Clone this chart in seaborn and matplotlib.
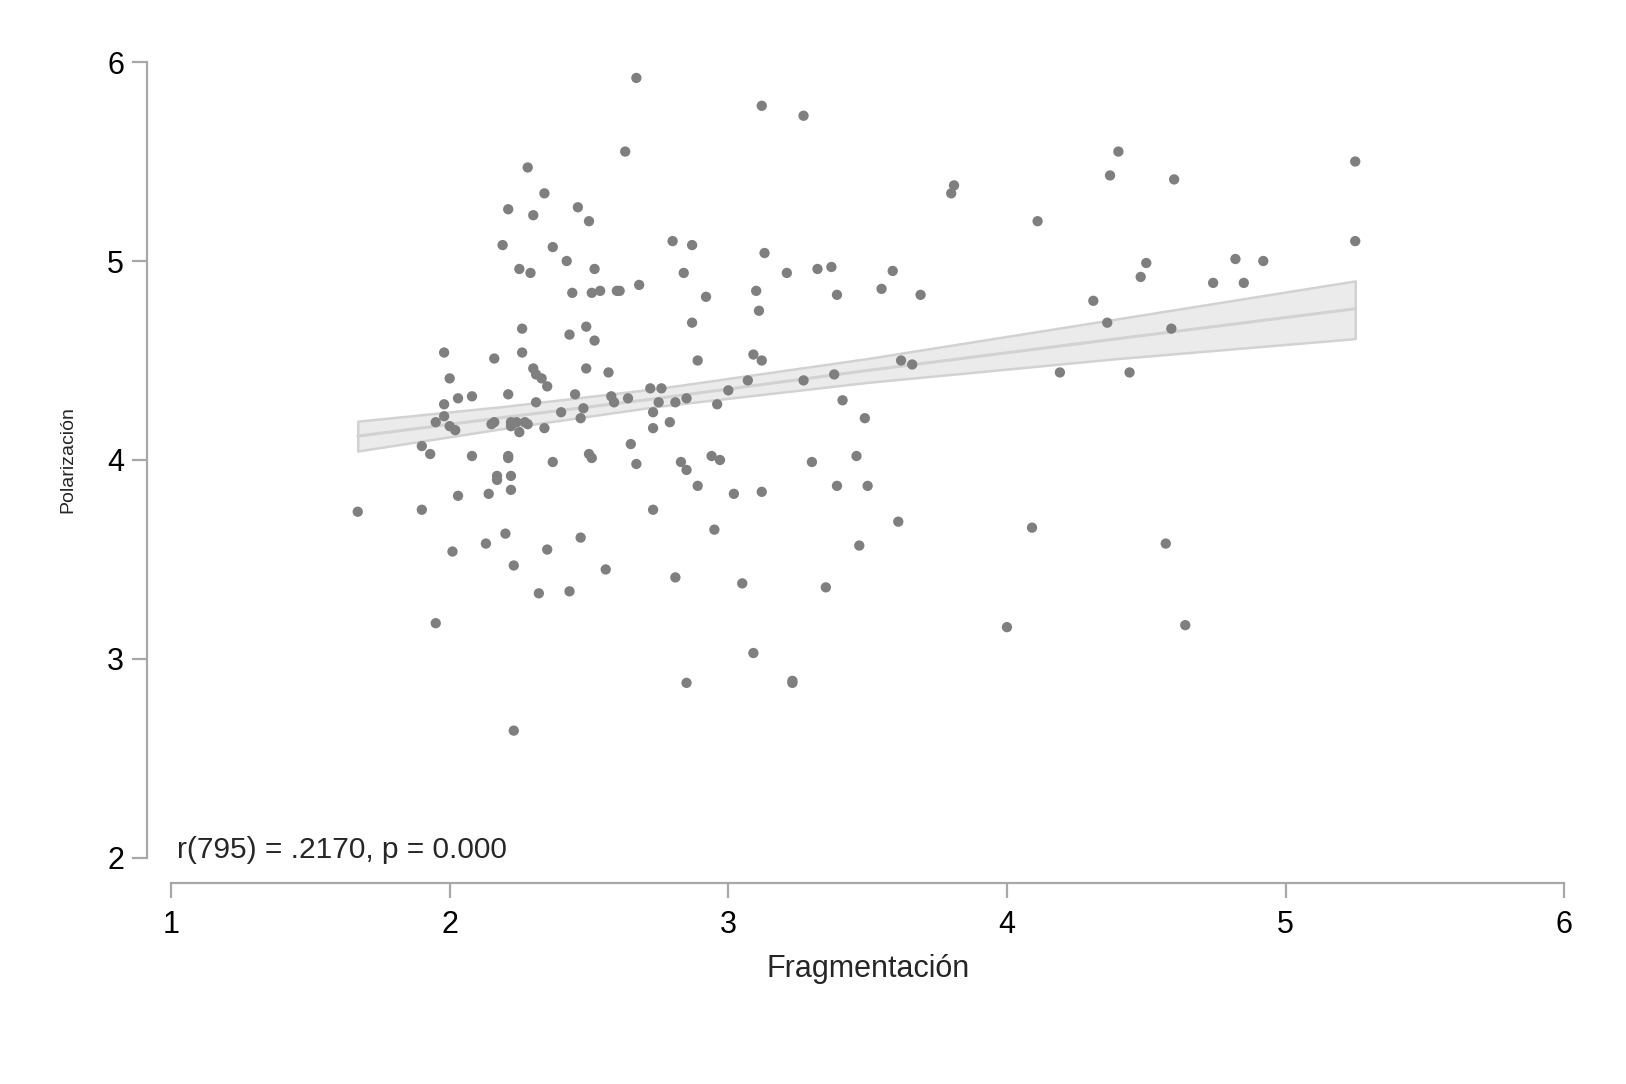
import numpy as np
import pandas as pd
import seaborn as sns
import matplotlib.pyplot as plt

# scatter values
fragmentacion = [
    1.67, 1.90, 1.90, 1.93, 1.95, 1.95, 1.98, 1.98, 1.98, 2.00, 2.00, 2.01, 2.03, 2.02, 2.03, 2.08, 2.08,
    2.13, 2.14, 2.15, 2.16, 2.16, 2.17, 2.17, 2.19, 2.20, 2.21, 2.21, 2.21, 2.21, 2.22, 2.22, 2.22, 2.22,
    2.23, 2.23, 2.24, 2.25, 2.25, 2.26, 2.26, 2.27, 2.28, 2.28, 2.29, 2.30, 2.30, 2.31, 2.31, 2.32, 2.33,
    2.34, 2.34, 2.35, 2.35, 2.37, 2.37, 2.40, 2.42, 2.43, 2.43, 2.44, 2.45, 2.46, 2.47, 2.47, 2.48, 2.49,
    2.49, 2.50, 2.50, 2.51, 2.51, 2.52, 2.52, 2.54, 2.56, 2.57, 2.58, 2.59, 2.60, 2.61, 2.63, 2.64, 2.65,
    2.67, 2.67, 2.68, 2.72, 2.73, 2.73, 2.73, 2.75, 2.76, 2.79, 2.80, 2.81, 2.81, 2.83, 2.84, 2.85, 2.85,
    2.85, 2.87, 2.87, 2.89, 2.89, 2.92, 2.94, 2.95, 2.96, 2.97, 3.00, 3.02, 3.05, 3.07, 3.09, 3.09, 3.10,
    3.11, 3.12, 3.12, 3.12, 3.13, 3.21, 3.23, 3.23, 3.27, 3.27, 3.30, 3.32, 3.35, 3.37, 3.38, 3.39, 3.39,
    3.41, 3.46, 3.47, 3.49, 3.50, 3.55, 3.59, 3.61, 3.62, 3.66, 3.69, 3.80, 3.81, 4.00, 4.09, 4.11, 4.19,
    4.31, 4.36, 4.37, 4.40, 4.44, 4.48, 4.50, 4.57, 4.60, 4.59, 4.64, 4.74, 4.82, 4.85, 4.92, 5.25, 5.25,
]
polarizacion = [
    3.74, 3.75, 4.07, 4.03, 3.18, 4.19, 4.54, 4.28, 4.22, 4.41, 4.17, 3.54, 4.31, 4.15, 3.82, 4.32, 4.02,
    3.58, 3.83, 4.18, 4.51, 4.19, 3.90, 3.92, 5.08, 3.63, 4.33, 4.02, 4.01, 5.26, 4.17, 4.19, 3.92, 3.85,
    3.47, 2.64, 4.19, 4.96, 4.14, 4.66, 4.54, 4.19, 5.47, 4.18, 4.94, 5.23, 4.46, 4.29, 4.43, 3.33, 4.41,
    5.34, 4.16, 4.37, 3.55, 5.07, 3.99, 4.24, 5.00, 3.34, 4.63, 4.84, 4.33, 5.27, 4.21, 3.61, 4.26, 4.67,
    4.46, 5.20, 4.03, 4.84, 4.01, 4.96, 4.60, 4.85, 3.45, 4.44, 4.32, 4.29, 4.85, 4.85, 5.55, 4.31, 4.08,
    5.92, 3.98, 4.88, 4.36, 4.24, 4.16, 3.75, 4.29, 4.36, 4.19, 5.10, 3.41, 4.29, 3.99, 4.94, 4.31, 3.95,
    2.88, 5.08, 4.69, 3.87, 4.50, 4.82, 4.02, 3.65, 4.28, 4.00, 4.35, 3.83, 3.38, 4.40, 3.03, 4.53, 4.85,
    4.75, 4.50, 3.84, 5.78, 5.04, 4.94, 2.88, 2.89, 5.73, 4.40, 3.99, 4.96, 3.36, 4.97, 4.43, 3.87, 4.83,
    4.30, 4.02, 3.57, 4.21, 3.87, 4.86, 4.95, 3.69, 4.50, 4.48, 4.83, 5.34, 5.38, 3.16, 3.66, 5.20, 4.44,
    4.80, 4.69, 5.43, 5.55, 4.44, 4.92, 4.99, 3.58, 5.41, 4.66, 3.17, 4.89, 5.01, 4.89, 5.00, 5.50, 5.10,
]

# fitted line and 95% band
fit_x = [1.67, 2.20, 2.75, 3.50, 4.40, 5.25]
fit_y = [4.12, 4.215, 4.31, 4.45, 4.61, 4.76]
ci_low = [4.045, 4.16, 4.27, 4.39, 4.51, 4.61]
ci_high = [4.195, 4.27, 4.36, 4.51, 4.71, 4.90]

xticks = [1, 2, 3, 4, 5, 6]
yticks = [2, 3, 4, 5, 6]
annotation = "r(795) = .2170, p = 0.000"

sns.set_style("ticks")
plt.rcParams["font.family"] = ["Liberation Sans", "DejaVu Sans"]

df = pd.DataFrame({"Fragmentación": fragmentacion, "Polarización": polarizacion})
fit = pd.DataFrame({"x": fit_x, "y": fit_y})

fig = plt.figure(figsize=(16.26, 10.84), dpi=100)
ax = fig.add_axes([0.1052, 0.2085, 0.962 - 0.1052, 0.9428 - 0.2085])

# confidence band drawn under the points
ax.fill_between(fit_x, ci_low, ci_high, facecolor="#ebebeb", edgecolor="#d2d2d2", linewidth=1.8, zorder=1)
sns.lineplot(data=fit, x="x", y="y", color="#d2d2d2", linewidth=2.2, ax=ax, zorder=2)
sns.scatterplot(data=df, x="Fragmentación", y="Polarización", color="#7f7f7f", s=55,
                edgecolor="none", ax=ax, zorder=3)

ax.set_xlim(1, 6)
ax.set_ylim(2, 6)
ax.set_xticks(xticks)
ax.set_yticks(yticks)

for side in ["top", "right"]:
    ax.spines[side].set_visible(False)
# offsets in points (24 px and 25 px at 100 dpi)
ax.spines["left"].set_position(("outward", 17.3))
ax.spines["bottom"].set_position(("outward", 18))
for side in ["left", "bottom"]:
    ax.spines[side].set_color("#a8a8a8")
    ax.spines[side].set_linewidth(1.6)

ax.tick_params(axis="both", which="major", direction="out", length=10.5, width=1.6,
               color="#a8a8a8", labelsize=22, labelcolor="black", left=True, bottom=True)
ax.tick_params(axis="y", pad=6)
ax.tick_params(axis="x", pad=9)

ax.set_xlabel("Fragmentación", fontsize=22, labelpad=10)
ax.set_ylabel("Polarización", fontsize=14, labelpad=22)

ax.text(1.02, 2.0, annotation, fontsize=21.5, ha="left", va="baseline")

fig.savefig("out.png", dpi=100)
